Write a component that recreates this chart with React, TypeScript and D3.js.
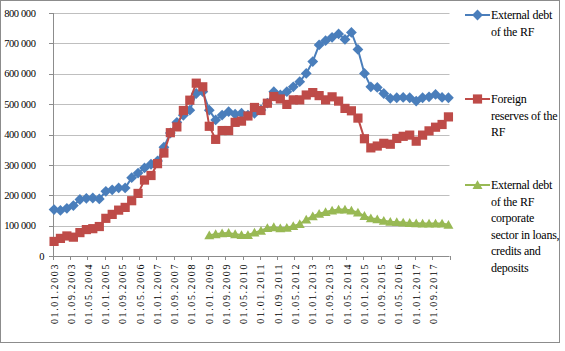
import React, { useEffect } from 'react';
import * as d3 from 'd3';

// quarterly observation dates
const dates = [
  "01.01.2003", "01.04.2003", "01.07.2003", "01.10.2003",
  "01.01.2004", "01.04.2004", "01.07.2004", "01.10.2004",
  "01.01.2005", "01.04.2005", "01.07.2005", "01.10.2005",
  "01.01.2006", "01.04.2006", "01.07.2006", "01.10.2006",
  "01.01.2007", "01.04.2007", "01.07.2007", "01.10.2007",
  "01.01.2008", "01.04.2008", "01.07.2008", "01.10.2008",
  "01.01.2009", "01.04.2009", "01.07.2009", "01.10.2009",
  "01.01.2010", "01.04.2010", "01.07.2010", "01.10.2010",
  "01.01.2011", "01.04.2011", "01.07.2011", "01.10.2011",
  "01.01.2012", "01.04.2012", "01.07.2012", "01.10.2012",
  "01.01.2013", "01.04.2013", "01.07.2013", "01.10.2013",
  "01.01.2014", "01.04.2014", "01.07.2014", "01.10.2014",
  "01.01.2015", "01.04.2015", "01.07.2015", "01.10.2015",
  "01.01.2016", "01.04.2016", "01.07.2016", "01.10.2016",
  "01.01.2017", "01.04.2017", "01.07.2017", "01.10.2017",
  "01.01.2018", "01.04.2018",
];

// million USD
const externalDebt = [
  153000, 150000, 157000, 166000, 186000, 190000, 191000, 188000,
  213000, 218000, 224000, 224000, 258000, 273000, 290000, 302000,
  313000, 358000, 405000, 440000, 463000, 480000, 535000, 541000,
  480000, 448000, 464000, 475000, 467000, 470000, 464000, 470000,
  481000, 503000, 541000, 530000, 541000, 557000, 574000, 601000,
  640000, 695000, 709000, 720000, 731000, 713000, 736000, 680000,
  601000, 557000, 555000, 535000, 519000, 521000, 522000, 521000,
  510000, 521000, 524000, 532000, 522000, 521000,
];

const foreignReserves = [
  48000, 58000, 66000, 62000, 77000, 87000, 90000, 97000,
  124000, 137000, 151000, 160000, 182000, 206000, 250000, 265000,
  304000, 339000, 406000, 425000, 479000, 513000, 569000, 557000,
  427000, 384000, 413000, 413000, 440000, 444000, 461000, 489000,
  479000, 503000, 525000, 517000, 499000, 514000, 514000, 530000,
  538000, 528000, 514000, 524000, 510000, 486000, 478000, 454000,
  386000, 356000, 362000, 371000, 368000, 387000, 394000, 398000,
  378000, 398000, 412000, 424000, 433000, 458000,
];

// starts 01.01.2009
const corporateDebt = [
  68000, 72000, 75000, 76000, 72000, 69000, 69000, 77000,
  83000, 92000, 95000, 91000, 93000, 99000, 105000, 120000,
  131000, 139000, 145000, 150000, 153000, 153000, 150000, 143000,
  132000, 124000, 121000, 116000, 113000, 112000, 110000, 109000,
  108000, 107000, 107000, 107000, 107000, 103000,
];
const corporateStart = "01.01.2009";

const xTickLabels = [
  "01.01.2003", "01.09.2003", "01.05.2004", "01.01.2005", "01.09.2005",
  "01.05.2006", "01.01.2007", "01.09.2007", "01.05.2008", "01.01.2009",
  "01.09.2009", "01.05.2010", "01.01.2011", "01.09.2011", "01.05.2012",
  "01.01.2013", "01.09.2013", "01.05.2014", "01.01.2015", "01.09.2015",
  "01.05.2016", "01.01.2017", "01.09.2017",
];
const axisEnd = "01.05.2018";

const yTicks = [0, 100000, 200000, 300000, 400000, 500000, 600000, 700000, 800000];

const legendBlue = ["External debt", "of the RF"];
const legendRed = ["Foreign", "reserves of the", "RF"];
const legendGreen = ["External debt", "of the RF", "corporate", "sector in loans,", "credits and", "deposits"];

const W = 565;
const H = 351;
const FONT = '"Liberation Serif", "Times New Roman", serif';

const BLUE = "#4a7ebb";
const RED = "#be4b48";
const GREEN = "#98b954";

const parse = d3.timeParse("%d.%m.%Y");

export default function App() {
  useEffect(() => {
    document.body.style.margin = "0";
  }, []);

  const margin = { left: 53, right: 449.5, top: 13, bottom: 256 };

  const x = d3.scaleTime()
    .domain([parse(xTickLabels[0]) as Date, parse(axisEnd) as Date])
    .range([margin.left, margin.right]);

  const y = d3.scaleLinear()
    .domain([0, 800000])
    .range([margin.bottom, margin.top]);

  // points sit in the middle of their month slot
  const px = (s: string) => x(d3.timeDay.offset(parse(s) as Date, 15));

  const blueData = dates.map((d, i) => ({ x: px(d), y: y(externalDebt[i]) }));
  const redData = dates.map((d, i) => ({ x: px(d), y: y(foreignReserves[i]) }));
  const startIdx = dates.indexOf(corporateStart);
  const greenData = corporateDebt.map((v, i) => ({ x: px(dates[startIdx + i]), y: y(v) }));

  const line = d3.line<{ x: number; y: number }>().x(d => d.x).y(d => d.y);

  const fmt = (v: number) => d3.format(",")(v).replace(/,/g, " ");

  const diamond = "M0,-5.4L5.4,0L0,5.4L-5.4,0Z";
  const square = "M-4.6,-4.6H4.6V4.6H-4.6Z";
  const triangle = "M0,-4.8L5,4L-5,4Z";

  const legend = [
    { lines: legendBlue, color: BLUE, marker: diamond, y: 15 },
    { lines: legendRed, color: RED, marker: square, y: 99 },
    { lines: legendGreen, color: GREEN, marker: triangle, y: 185 },
  ];

  return (
    <svg width={W} height={H} style={{ display: 'block', background: '#fff' }} fontFamily={FONT}>
      <rect x={0.5} y={0.5} width={559} height={342} fill="#fff" stroke="#8c8c8c" strokeWidth={1} />

      {/* gridlines */}
      {yTicks.filter(t => t > 0).map(t => (
        <line key={t} x1={margin.left} x2={margin.right} y1={Math.round(y(t)) + 0.5} y2={Math.round(y(t)) + 0.5}
          stroke="#bfbfbf" strokeWidth={1} />
      ))}

      {/* y axis */}
      <line x1={margin.left + 0.5} x2={margin.left + 0.5} y1={margin.top} y2={margin.bottom} stroke="#8c8c8c" />
      {yTicks.map(t => (
        <g key={t}>
          <line x1={margin.left - 4} x2={margin.left} y1={Math.round(y(t)) + 0.5} y2={Math.round(y(t)) + 0.5} stroke="#8c8c8c" />
          <text x={t === 0 ? 44 : 35.5} y={y(t)} dy="0.35em" textAnchor="end" fontSize={10.5}
            letterSpacing={-0.4} fill="#000">{fmt(t)}</text>
        </g>
      ))}

      {/* x axis */}
      <line x1={margin.left} x2={margin.right} y1={margin.bottom + 0.5} y2={margin.bottom + 0.5} stroke="#8c8c8c" />
      {[...xTickLabels, axisEnd].map(s => {
        const tx = Math.round(x(parse(s) as Date)) + 0.5;
        return <line key={s} x1={tx} x2={tx} y1={margin.bottom} y2={margin.bottom + 4} stroke="#8c8c8c" />;
      })}
      {xTickLabels.map(s => (
        <text key={s} transform={`translate(${x(parse(s) as Date) + 1},263) rotate(-90)`} textAnchor="end"
          dy="0.35em" fontSize={10} letterSpacing={1.6} fill="#000">{s}</text>
      ))}

      {/* series */}
      <path d={line(blueData) || ""} fill="none" stroke={BLUE} strokeWidth={2} />
      {blueData.map((d, i) => (
        <path key={i} d={diamond} transform={`translate(${d.x},${d.y})`} fill={BLUE} />
      ))}
      <path d={line(redData) || ""} fill="none" stroke={RED} strokeWidth={2} />
      {redData.map((d, i) => (
        <path key={i} d={square} transform={`translate(${d.x},${d.y})`} fill={RED} />
      ))}
      <path d={line(greenData) || ""} fill="none" stroke={GREEN} strokeWidth={2} />
      {greenData.map((d, i) => (
        <path key={i} d={triangle} transform={`translate(${d.x},${d.y})`} fill={GREEN} />
      ))}

      {/* legend */}
      {legend.map(item => (
        <g key={item.y}>
          <line x1={465} x2={490} y1={item.y} y2={item.y} stroke={item.color} strokeWidth={2} />
          <path d={item.marker} transform={`translate(477.5,${item.y})`} fill={item.color} />
          <text x={491} y={item.y + 4} fontSize={12} letterSpacing={-0.25} fill="#000">
            {item.lines.map((l, i) => (
              <tspan key={i} x={491} dy={i === 0 ? 0 : 16.6}>{l}</tspan>
            ))}
          </text>
        </g>
      ))}
    </svg>
  );
}
